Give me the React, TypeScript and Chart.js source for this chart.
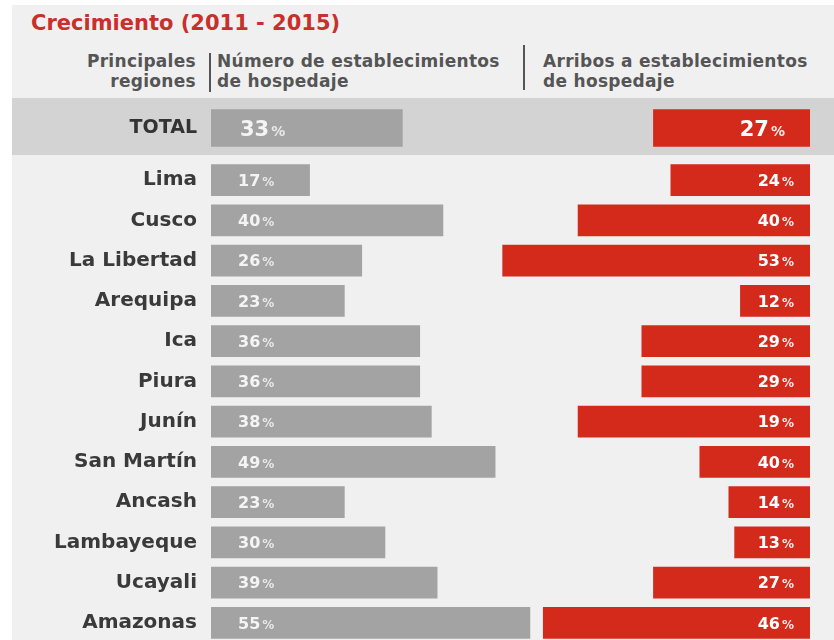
import React, { useEffect, useRef } from "react";
import { Chart, registerables } from "chart.js";

Chart.register(...registerables);

// ---- Data ----
const regiones = [
  "Lima", "Cusco", "La Libertad", "Arequipa", "Ica", "Piura",
  "Junín", "San Martín", "Ancash", "Lambayeque", "Ucayali", "Amazonas",
];
// Número de establecimientos de hospedaje (% crecimiento)
const establecimientos = [17, 40, 26, 23, 36, 36, 38, 49, 23, 30, 39, 55];
// Arribos a establecimientos de hospedaje (% printed on the bars)
const arribos = [24, 40, 53, 12, 29, 29, 19, 40, 14, 13, 27, 46];
// Arribos: bar lengths as drawn in the source graphic (Junín / San Martín bars are swapped there)
const arribosLongitud = [24, 40, 53, 12, 29, 29, 40, 19, 14, 13, 27, 46];

const totalEtiqueta = ["TOTAL"];
const totalEstablecimientos = [33];
const totalArribos = [27];

const ejeMax = 103.3;

const GRAY = "#a3a3a3";
const RED = "#d42a1c";
const FONT = '"DejaVu Sans", sans-serif';

const barLabels = {
  id: "barLabels",
  afterDatasetsDraw(chart: any, _args: any, opts: any) {
    const ctx = chart.ctx;
    chart.data.datasets.forEach((_ds: any, di: number) => {
      const meta = chart.getDatasetMeta(di);
      const texts = di === 0 ? opts.grayText : opts.redText;
      meta.data.forEach((bar: any, i: number) => {
        const num = String(texts[i]);
        ctx.save();
        ctx.font = `bold ${opts.numSize}px ${FONT}`;
        const wn = ctx.measureText(num).width;
        ctx.font = `bold ${opts.pctSize}px ${FONT}`;
        const wp = ctx.measureText("%").width;
        const gap = 2;
        let x: number;
        if (di === 0) x = bar.base + opts.padL;
        else x = bar.base - opts.padR - wn - gap - wp;
        const y = bar.y + opts.numSize * 0.365;
        ctx.textAlign = "left";
        ctx.textBaseline = "alphabetic";
        ctx.fillStyle = di === 0 ? "rgba(255,255,255,0.88)" : "#ffffff";
        ctx.font = `bold ${opts.numSize}px ${FONT}`;
        ctx.fillText(num, x, y);
        ctx.font = `bold ${opts.pctSize}px ${FONT}`;
        ctx.fillStyle = di === 0 ? "rgba(255,255,255,0.75)" : "rgba(255,255,255,0.9)";
        ctx.fillText("%", x + wn + gap, y);
        ctx.restore();
      });
    });
  },
};

function makeChart(
  canvas: HTMLCanvasElement,
  labels: string[],
  gray: number[],
  red: number[],
  grayText: number[],
  redText: number[],
  thickness: number,
  tickSize: number,
  tickColor: string,
  numSize: number,
  pctSize: number,
  padL: number,
  padR: number
) {
  return new Chart(canvas, {
    type: "bar",
    data: {
      labels,
      datasets: [
        {
          data: gray,
          backgroundColor: GRAY,
          xAxisID: "x",
          grouped: false,
          barThickness: thickness,
          borderWidth: 0,
        } as any,
        {
          data: red,
          backgroundColor: RED,
          xAxisID: "x2",
          grouped: false,
          barThickness: thickness,
          borderWidth: 0,
        } as any,
      ],
    },
    options: {
      indexAxis: "y",
      responsive: false,
      animation: false,
      layout: { padding: { left: 0, right: 24, top: 0, bottom: 0 } },
      scales: {
        x: { display: false, min: 0, max: ejeMax },
        x2: { display: false, min: 0, max: ejeMax, reverse: true, position: "bottom" },
        y: {
          grid: { display: false, drawTicks: false },
          border: { display: false },
          ticks: {
            padding: 14,
            color: tickColor,
            font: { family: FONT, size: tickSize, weight: "bold" },
          },
          afterFit: (s: any) => {
            s.width = 211;
            s.paddingTop = 0;
            s.paddingBottom = 0;
          },
        },
      },
      plugins: {
        legend: { display: false },
        tooltip: { enabled: false },
        barLabels: { grayText, redText, numSize, pctSize, padL, padR },
      } as any,
    },
    plugins: [barLabels],
  } as any);
}

export default function App() {
  const totalRef = useRef<HTMLCanvasElement>(null);
  const regRef = useRef<HTMLCanvasElement>(null);

  useEffect(() => {
    const c1 = makeChart(
      totalRef.current!, totalEtiqueta, totalEstablecimientos, totalArribos,
      totalEstablecimientos, totalArribos, 37, 19, "#333333", 21, 14, 29, 25
    );
    const c2 = makeChart(
      regRef.current!, regiones, establecimientos, arribosLongitud,
      establecimientos, arribos, 31, 20, "#3a3a3a", 16, 12, 27, 16
    );
    return () => {
      c1.destroy();
      c2.destroy();
    };
  }, []);

  const header: React.CSSProperties = {
    position: "absolute",
    fontSize: 17,
    lineHeight: "20px",
    fontWeight: "bold",
    color: "#555555",
    letterSpacing: "0.3px",
    whiteSpace: "nowrap",
  };

  return (
    <div
      style={{
        position: "absolute",
        left: 0,
        top: 0,
        width: 834,
        height: 640,
        background: "#ffffff",
        overflow: "hidden",
        fontFamily: FONT,
      }}
    >
      <div style={{ position: "absolute", left: 12, top: 5, width: 822, height: 635, background: "#f0f0f0" }} />
      <div
        style={{
          position: "absolute",
          left: 31,
          top: 11,
          fontSize: 21,
          lineHeight: "24px",
          fontWeight: "bold",
          color: "#c9302c",
          whiteSpace: "nowrap",
        }}
      >
        Crecimiento (2011 - 2015)
      </div>
      <div style={{ ...header, right: 834 - 196, top: 51, textAlign: "right" }}>
        Principales
        <br />
        regiones
      </div>
      <div style={{ position: "absolute", left: 209, top: 53, width: 2, height: 39, background: "#555555" }} />
      <div style={{ ...header, left: 217, top: 51 }}>
        Número de establecimientos
        <br />
        de hospedaje
      </div>
      <div style={{ position: "absolute", left: 523, top: 45, width: 2, height: 45, background: "#555555" }} />
      <div style={{ ...header, left: 543, top: 51 }}>
        Arribos a establecimientos
        <br />
        de hospedaje
      </div>
      <div style={{ position: "absolute", left: 12, top: 98, width: 822, height: 57, background: "#d3d3d3" }} />
      <canvas
        ref={totalRef}
        width={834}
        height={58}
        style={{ position: "absolute", left: 0, top: 99, width: 834, height: 58 }}
      />
      <canvas
        ref={regRef}
        width={834}
        height={483}
        style={{ position: "absolute", left: 0, top: 160, width: 834, height: 483 }}
      />
    </div>
  );
}
